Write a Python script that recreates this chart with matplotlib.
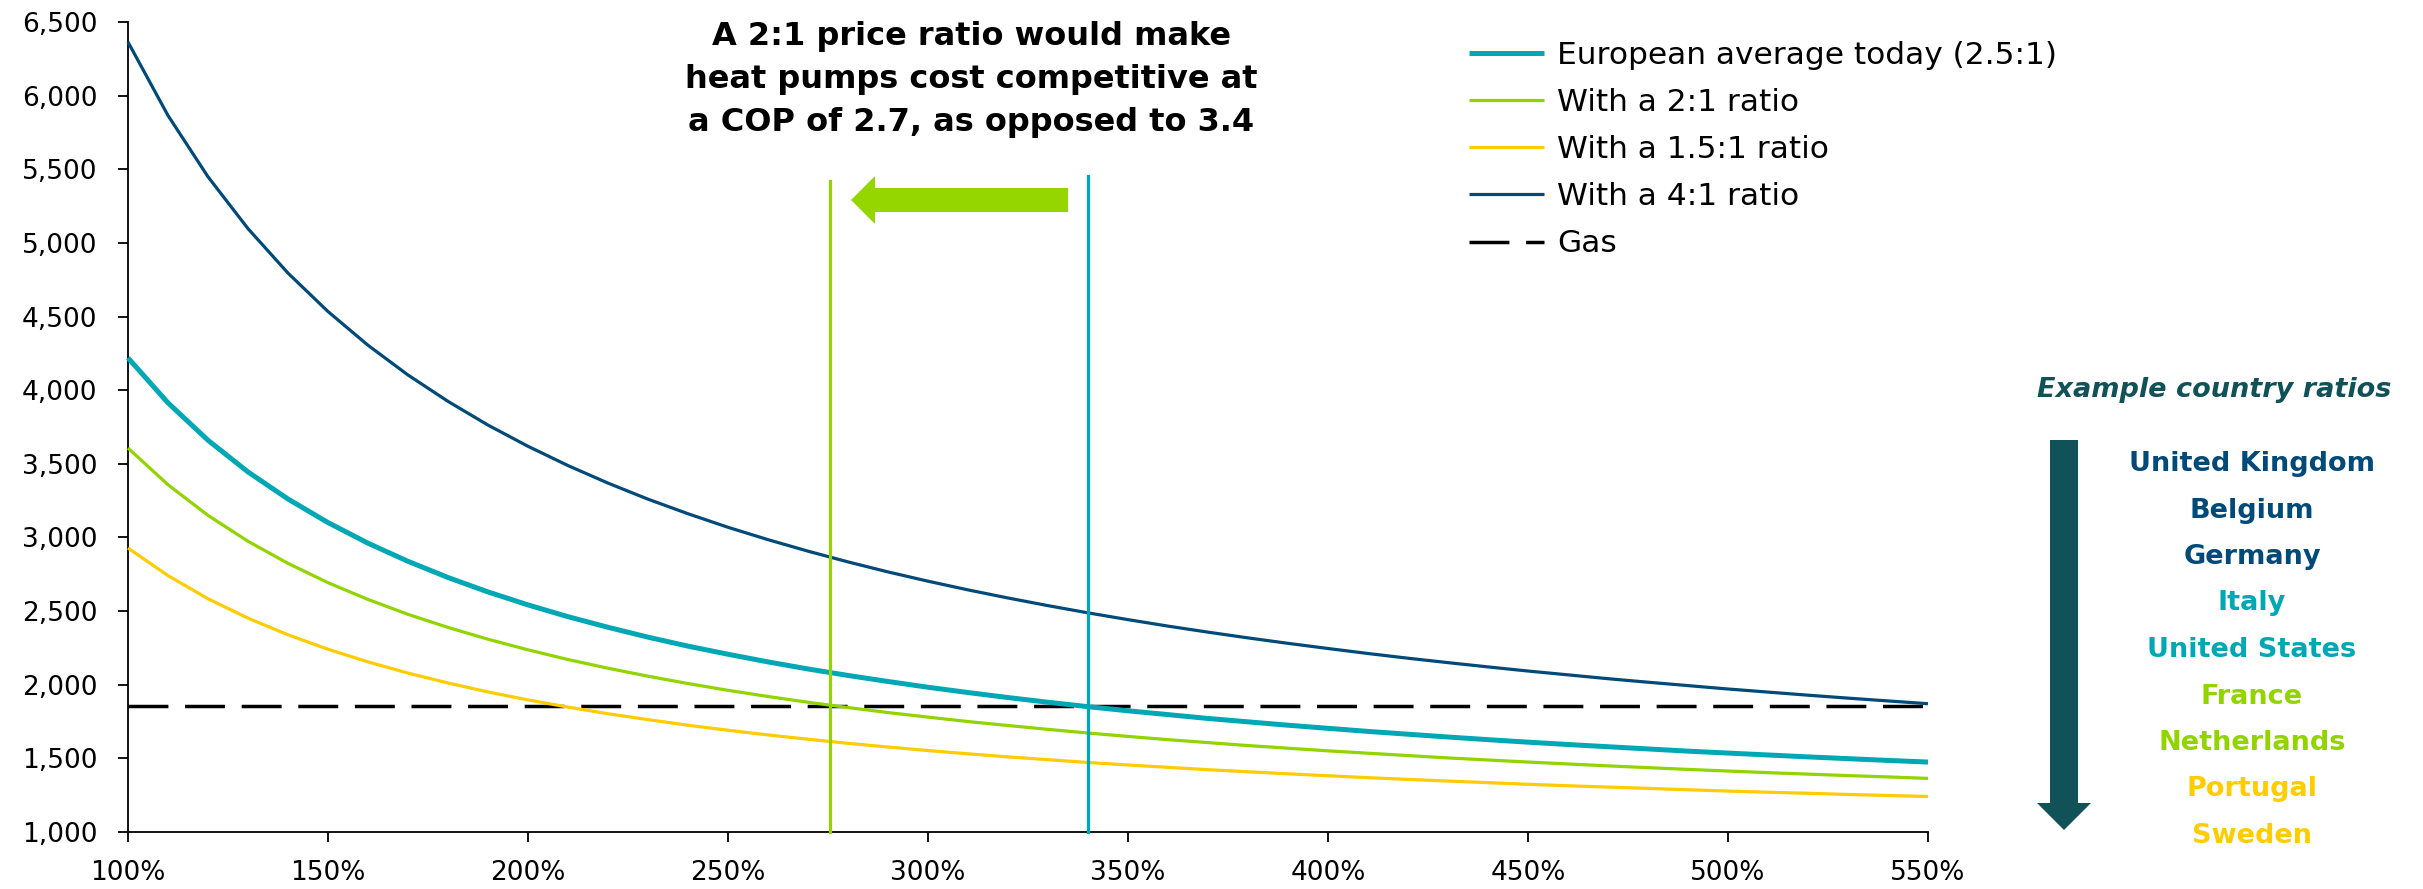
import matplotlib
matplotlib.use("Agg")
import matplotlib.pyplot as plt
from matplotlib.patches import Polygon
from matplotlib.ticker import FuncFormatter, MultipleLocator

# ---------------- data ----------------
cop_pct = [100, 110, 120, 130, 140, 150, 160, 170, 180, 190,
           200, 210, 220, 230, 240, 250, 260, 270, 280, 290,
           300, 310, 320, 330, 340, 350, 360, 370, 380, 390,
           400, 410, 420, 430, 440, 450, 460, 470, 480, 490,
           500, 510, 520, 530, 540, 550]

euro_avg = [4219, 3914, 3660, 3445, 3261, 3101, 2961, 2838, 2728, 2630,
            2542, 2462, 2390, 2323, 2262, 2207, 2155, 2107, 2063, 2022,
            1983, 1947, 1913, 1881, 1851, 1823, 1797, 1771, 1748, 1725,
            1704, 1683, 1664, 1645, 1627, 1610, 1594, 1579, 1564, 1549,
            1536, 1523, 1510, 1498, 1486, 1475]

ratio_2 = [3607, 3358, 3150, 2974, 2824, 2693, 2579, 2478, 2389, 2309,
           2237, 2171, 2112, 2058, 2008, 1962, 1920, 1881, 1845, 1811,
           1780, 1750, 1723, 1697, 1672, 1649, 1627, 1607, 1587, 1569,
           1551, 1535, 1519, 1503, 1489, 1475, 1462, 1449, 1437, 1425,
           1414, 1403, 1393, 1383, 1374, 1364]

ratio_1_5 = [2928, 2741, 2584, 2452, 2339, 2241, 2155, 2079, 2012, 1951,
             1897, 1848, 1803, 1763, 1725, 1691, 1659, 1630, 1602, 1577,
             1553, 1531, 1510, 1491, 1472, 1455, 1439, 1423, 1409, 1395,
             1382, 1369, 1357, 1346, 1335, 1324, 1314, 1305, 1296, 1287,
             1278, 1270, 1263, 1255, 1248, 1241]

ratio_4 = [6364, 5865, 5449, 5097, 4795, 4534, 4305, 4103, 3924, 3763,
           3619, 3488, 3369, 3260, 3161, 3069, 2985, 2907, 2834, 2766,
           2703, 2644, 2589, 2537, 2488, 2442, 2398, 2357, 2318, 2281,
           2246, 2212, 2180, 2150, 2121, 2093, 2067, 2041, 2017, 1994,
           1971, 1950, 1929, 1909, 1890, 1871]

gas_cost = 1855

series_labels = ["European average today (2.5:1)", "With a 2:1 ratio",
                 "With a 1.5:1 ratio", "With a 4:1 ratio", "Gas"]

breakeven_cop = [275.5, 340]          # 2:1 ratio, European average
breakeven_top = [5420, 5455]

title_lines = ["A 2:1 price ratio would make",
               "heat pumps cost competitive at",
               "a COP of 2.7, as opposed to 3.4"]

countries = ["United Kingdom", "Belgium", "Germany", "Italy", "United States",
             "France", "Netherlands", "Portugal", "Sweden"]

# ---------------- style ----------------
TEAL = "#00A8B5"
GREEN = "#92D400"
YELLOW = "#FFCC00"
NAVY = "#004A7A"
DARK = "#115158"
ARROW_GREEN = "#95D600"
country_colors = [NAVY, NAVY, NAVY, TEAL, TEAL, GREEN, GREEN, YELLOW, YELLOW]

W, H = 2423, 889
plt.rcParams['font.family'] = ['DejaVu Sans']
fig = plt.figure(figsize=(W / 100, H / 100), dpi=100)

def fx(x):
    return x / W

def fy(y):
    return 1 - y / H

ax = fig.add_axes([fx(128), fy(832), (1928 - 128) / W, (832 - 22) / H])

ax.plot(cop_pct, euro_avg, color=TEAL, lw=3.6, label=series_labels[0], clip_on=False, zorder=4, solid_capstyle='butt')
ax.plot(cop_pct, ratio_2, color=GREEN, lw=2.3, label=series_labels[1], clip_on=False, zorder=3, solid_capstyle='butt')
ax.plot(cop_pct, ratio_1_5, color=YELLOW, lw=2.3, label=series_labels[2], clip_on=False, zorder=3, solid_capstyle='butt')
ax.plot(cop_pct, ratio_4, color=NAVY, lw=2.3, label=series_labels[3], clip_on=False, zorder=3, solid_capstyle='butt')
ax.plot([cop_pct[0], cop_pct[-1]], [gas_cost, gas_cost], color="black", lw=2.5,
        dashes=(11.5, 4.8), label=series_labels[4], clip_on=False, zorder=2)

ax.plot([breakeven_cop[0]] * 2, [1000, breakeven_top[0]], color=GREEN, lw=2.3, clip_on=False, zorder=5)
ax.plot([breakeven_cop[1]] * 2, [1000, breakeven_top[1]], color=TEAL, lw=2.3, clip_on=False, zorder=5)

ax.set_xlim(100, 550)
ax.set_ylim(1000, 6500)
ax.xaxis.set_major_locator(MultipleLocator(50))
ax.yaxis.set_major_locator(MultipleLocator(500))
ax.xaxis.set_major_formatter(FuncFormatter(lambda v, p: f"{v:.0f}%"))
ax.yaxis.set_major_formatter(FuncFormatter(lambda v, p: f"{v:,.0f}"))
for s in ["top", "right"]:
    ax.spines[s].set_visible(False)
for s in ["left", "bottom"]:
    ax.spines[s].set_linewidth(1.3)
ax.tick_params(axis="both", direction="out", length=7, width=1.3, labelsize=19, colors="black")
ax.tick_params(axis="y", pad=15)
ax.tick_params(axis="x", pad=13)

# legend
leg = fig.legend(loc="upper left", bbox_to_anchor=(fx(1469), fy(41)), frameon=False,
                 fontsize=22.5, handlelength=2.4, handletextpad=0.42, labelspacing=0.58,
                 borderpad=0, borderaxespad=0)

# title text
for line, yb in zip(title_lines, [45, 88, 131]):
    fig.text(fx(971), fy(yb), line, ha="center", va="baseline", fontsize=23,
             fontweight="bold", color="black")

# green arrow (pixel geometry of the annotation)
arrow_px = [(851, 200), (875, 176), (875, 188), (1068, 188), (1068, 212), (875, 212), (875, 224)]
fig.add_artist(Polygon([(fx(x), fy(y)) for x, y in arrow_px], closed=True,
                       transform=fig.transFigure, facecolor=ARROW_GREEN, edgecolor="none"))

# country panel
fig.text(fx(2214), fy(397), "Example country ratios", ha="center", va="baseline",
         fontsize=19.5, fontweight="bold", fontstyle="italic", color=DARK)
down_px = [(2050, 440), (2078, 440), (2078, 803), (2091, 803), (2064, 830), (2037, 803), (2050, 803)]
fig.add_artist(Polygon([(fx(x), fy(y)) for x, y in down_px], closed=True,
                       transform=fig.transFigure, facecolor=DARK, edgecolor="none"))
for i, (name, col) in enumerate(zip(countries, country_colors)):
    fig.text(fx(2252), fy(471 + 46.5 * i), name, ha="center", va="baseline",
             fontsize=19.5, fontweight="bold", color=col)

fig.savefig("out.png", dpi=100)
